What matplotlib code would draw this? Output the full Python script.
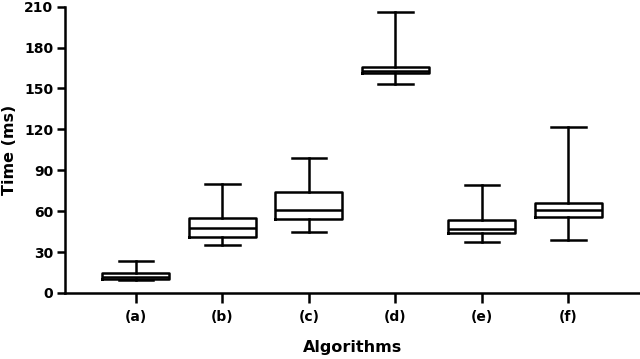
import matplotlib
matplotlib.use("Agg")
import matplotlib.pyplot as plt

categories = ["(a)", "(b)", "(c)", "(d)", "(e)", "(f)"]
whisker_low = [9.6, 35.0, 45.0, 153.2, 37.4, 39.1]
q1 = [10.6, 40.9, 54.3, 161.2, 43.8, 55.8]
median = [11.6, 48.0, 60.7, 162.6, 46.8, 60.7]
q3 = [14.6, 55.3, 74.4, 166.1, 53.4, 66.3]
whisker_high = [23.2, 79.8, 99.3, 205.8, 79.0, 121.9]
yticks = [0, 30, 60, 90, 120, 150, 180, 210]

plt.rcParams['font.family'] = ['DejaVu Sans']
plt.rcParams['font.weight'] = 'bold'

fig = plt.figure(figsize=(6.4, 3.59), dpi=100)
ax = fig.add_axes([65/640, 1-293/359, 1-65/640, (293-6.7)/359])

stats = []
for i, c in enumerate(categories):
    stats.append(dict(label=c, whislo=whisker_low[i], q1=q1[i], med=median[i],
                      q3=q3[i], whishi=whisker_high[i], fliers=[]))

lw = 1.8
ax.bxp(stats, positions=range(1, len(categories)+1), widths=0.775, showfliers=False,
       boxprops=dict(color='black', linewidth=lw),
       medianprops=dict(color='black', linewidth=lw),
       whiskerprops=dict(color='black', linewidth=lw),
       capprops=dict(color='black', linewidth=lw),
       capwidths=0.40)

ax.set_xlim(0.179, 6.829)
ax.set_ylim(0, 210)
ax.set_yticks(yticks)
ax.set_yticklabels([str(v) for v in yticks], fontsize=10, fontweight='bold')
ax.set_xticks(range(1, len(categories)+1))
ax.set_xticklabels(categories, fontsize=10, fontweight='bold')
ax.spines['top'].set_visible(False)
ax.spines['right'].set_visible(False)
for s in ['left', 'bottom']:
    ax.spines[s].set_linewidth(1.8)
ax.tick_params(axis='y', direction='out', length=5.5, width=1.8, pad=3)
ax.tick_params(axis='x', direction='out', length=7, width=1.8, pad=5)
ax.set_ylabel("Time (ms)", fontsize=11.5, fontweight='bold', labelpad=5)
ax.set_xlabel("Algorithms", fontsize=11.5, fontweight='bold', labelpad=12)

fig.savefig("out.png", dpi=100)
